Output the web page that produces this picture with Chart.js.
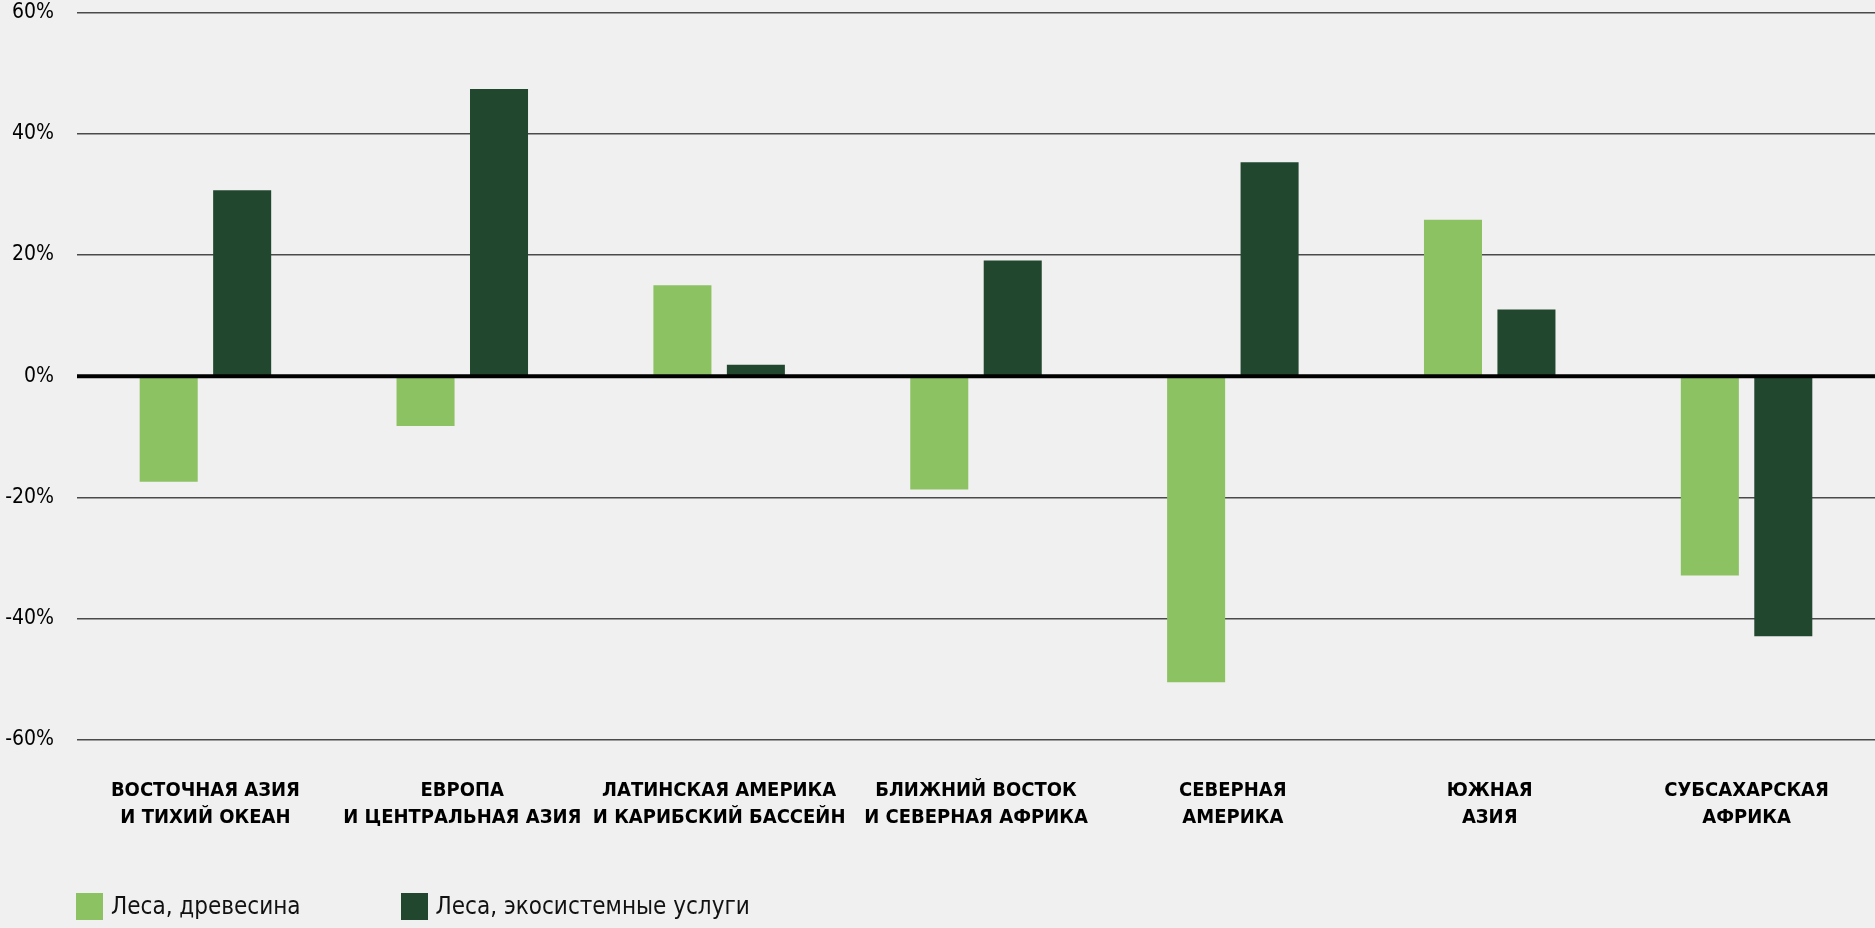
<!DOCTYPE html>
<html lang="ru">
<head>
<meta charset="utf-8">
<title>Леса: древесина и экосистемные услуги</title>
<script src="https://cdn.jsdelivr.net/npm/chart.js@4.4.1/dist/chart.umd.min.js"></script>
<style>
    html, body {
        margin: 0;
        padding: 0;
        background: #f0f0f0;
        overflow: hidden;
    }
    #wrap {
        position: relative;
        width: 1875px;
        height: 928px;
        overflow: hidden;
    }
    #mainChart {
        display: block;
        position: absolute;
        left: 0;
        top: -23px;
    }
    #legend {
        position: absolute;
        left: 76px;
        top: 892px;
        display: flex;
        font-family: 'Liberation Sans Narrow', 'DejaVu Sans Condensed', sans-serif;
        font-size: 24px;
        color: #111;
    }
    .item {
        display: flex;
        align-items: center;
        margin-right: 100px;
    }
    .swatch {
        width: 27px;
        height: 27px;
        margin-right: 8px;
    }
</style>
</head>
<body>
<div id="wrap">
    <canvas id="mainChart" width="1875" height="951"></canvas>
    <div id="legend"></div>
</div>
<script>
// Regions (two-line labels)
const regions = [
    ['ВОСТОЧНАЯ АЗИЯ', 'И ТИХИЙ ОКЕАН'],
    ['ЕВРОПА', 'И ЦЕНТРАЛЬНАЯ АЗИЯ'],
    ['ЛАТИНСКАЯ АМЕРИКА', 'И КАРИБСКИЙ БАССЕЙН'],
    ['БЛИЖНИЙ ВОСТОК', 'И СЕВЕРНАЯ АФРИКА'],
    ['СЕВЕРНАЯ', 'АМЕРИКА'],
    ['ЮЖНАЯ', 'АЗИЯ'],
    ['СУБСАХАРСКАЯ', 'АФРИКА']
];

const seriesNames = ['Леса, древесина', 'Леса, экосистемные услуги'];
const seriesColors = ['#8dc263', '#22472f'];

// Change, %
const timber = [-17.4, -8.2, 15.0, -18.7, -50.5, 25.8, -32.9];
const ecoServices = [30.7, 47.4, 1.9, 19.1, 35.3, 11.0, -42.9];

const yTicks = [-60, -40, -20, 0, 20, 40, 60];

const FONT = "'Liberation Sans Narrow', 'DejaVu Sans Condensed', sans-serif";

// zero line drawn over the bars
const zeroLinePlugin = {
    id: 'zeroLine',
    afterDatasetsDraw(chart) {
        const y = chart.scales.y.getPixelForValue(0);
        const ctx = chart.ctx;
        ctx.save();
        ctx.strokeStyle = '#000';
        ctx.lineWidth = 4;
        ctx.beginPath();
        ctx.moveTo(chart.chartArea.left, y);
        ctx.lineTo(chart.chartArea.right, y);
        ctx.stroke();
        ctx.restore();
    }
};

const ctx = document.getElementById('mainChart');

new Chart(ctx, {
    type: 'bar',
    data: {
        labels: regions,
        datasets: [
            {
                label: seriesNames[0],
                data: timber,
                backgroundColor: seriesColors[0]
            },
            {
                label: seriesNames[1],
                data: ecoServices,
                backgroundColor: seriesColors[1]
            }
        ]
    },
    options: {
        responsive: false,
        animation: false,
        categoryPercentage: 0.572,
        barPercentage: 0.79,
        layout: {
            padding: { top: 0, right: 0, bottom: 67, left: 0 }
        },
        scales: {
            x: {
                grid: { display: false },
                border: { display: false },
                ticks: {
                    color: '#000',
                    padding: 29,
                    maxRotation: 0,
                    autoSkip: false,
                    font: { family: FONT, size: 20, weight: 'bold', lineHeight: 1.38 }
                }
            },
            y: {
                min: -60,
                max: 60,
                afterFit(scale) {
                    scale.width = 77;
                },
                afterBuildTicks(scale) {
                    scale.ticks = yTicks.map(v => ({ value: v }));
                },
                border: { display: false },
                grid: {
                    drawTicks: false,
                    color: '#4a4a4a',
                    lineWidth: 1.5
                },
                ticks: {
                    color: '#000',
                    padding: 23,
                    font: { family: FONT, size: 21 },
                    callback: v => v + '%'
                }
            }
        },
        plugins: {
            legend: { display: false },
            tooltip: { enabled: false }
        }
    },
    plugins: [zeroLinePlugin]
});

// legend
const legend = document.getElementById('legend');
seriesNames.forEach((name, i) => {
    const item = document.createElement('div');
    item.className = 'item';
    const sw = document.createElement('span');
    sw.className = 'swatch';
    sw.style.background = seriesColors[i];
    const txt = document.createElement('span');
    txt.textContent = name;
    item.appendChild(sw);
    item.appendChild(txt);
    legend.appendChild(item);
});
</script>
</body>
</html>
